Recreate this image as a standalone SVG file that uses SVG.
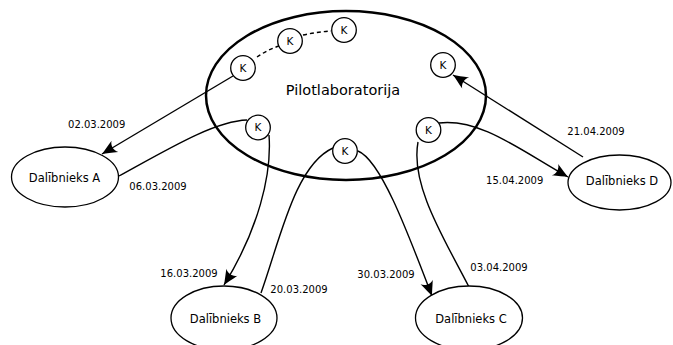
<svg xmlns="http://www.w3.org/2000/svg" width="673" height="345" viewBox="0 0 673 345">
<defs>
<style>
.conn{fill:none;stroke:#000;stroke-width:1.4}
.dash{fill:none;stroke:#000;stroke-width:1.4;stroke-dasharray:4,3}
.k{fill:#fff;stroke:#000;stroke-width:1.3}
.p{fill:#fff;stroke:#000;stroke-width:1.3}
.main{fill:#fff;stroke:#000;stroke-width:2.5}
text{font-family:"DejaVu Sans","Liberation Sans",sans-serif;fill:#000;text-anchor:middle}
.kt{font-size:10.5px}
.pt{font-size:11.5px}
.dt{font-size:10px}
.mt{font-size:14.5px}
</style>
<marker id="arr" markerUnits="userSpaceOnUse" markerWidth="20" markerHeight="16" viewBox="-16 -8 17 16" refX="0" refY="0" orient="auto">
<path d="M0,0 C-4,-1.5 -9,-4 -15,-6.5 C-11.5,-3 -11.5,3 -15,6.5 C-9,4 -4,1.5 0,0 Z" fill="#000"/>
</marker>
</defs>
<g id="pilotlaboratorija">
<ellipse class="main" cx="346" cy="95.5" rx="140" ry="84.5"/>
<text class="mt" x="343" y="95">Pilotlaboratorija</text>
</g>
<g id="connectors">
<path class="dash" d="M257,57 Q267,50 279,46"/>
<path class="dash" d="M303,35 Q317,32 331,31"/>
<path class="conn" d="M233,76 L102,154" marker-end="url(#arr)"/>
<path class="conn" d="M119,176 C170,148 215,121 247,120"/>
<path class="conn" d="M269,135 C272,175 258,230 224,285" marker-end="url(#arr)"/>
<path class="conn" d="M261,293 C280,240 295,165 333,148"/>
<path class="conn" d="M358,151 C380,160 405,225 432,296" marker-end="url(#arr)"/>
<path class="conn" d="M469,287 C445,240 410,185 418,142"/>
<path class="conn" d="M439,123 C480,118 520,150 568,177" marker-end="url(#arr)"/>
<path class="conn" d="M583,157 L453,75" marker-end="url(#arr)"/>
</g>
<g id="k1"><circle class="k" cx="243" cy="68" r="12.3"/><text class="kt" x="243" y="71.8">K</text></g>
<g id="k2"><circle class="k" cx="290" cy="41" r="12.3"/><text class="kt" x="290" y="44.8">K</text></g>
<g id="k3"><circle class="k" cx="344" cy="30" r="12.3"/><text class="kt" x="344" y="33.8">K</text></g>
<g id="k4"><circle class="k" cx="443" cy="65" r="12.3"/><text class="kt" x="443" y="68.8">K</text></g>
<g id="k5"><circle class="k" cx="258" cy="127.5" r="12.3"/><text class="kt" x="258" y="131.3">K</text></g>
<g id="k6"><circle class="k" cx="345" cy="151" r="12.3"/><text class="kt" x="345" y="154.8">K</text></g>
<g id="k7"><circle class="k" cx="428.5" cy="130" r="12.3"/><text class="kt" x="428.5" y="133.8">K</text></g>
<g id="dalibnieks-a"><ellipse class="p" cx="65" cy="177" rx="53.5" ry="30"/><text class="pt" x="64.5" y="181.5">Dalībnieks A</text></g>
<g id="dalibnieks-b"><ellipse class="p" cx="224" cy="318" rx="53" ry="32"/><text class="pt" x="225.5" y="323">Dalībnieks B</text></g>
<g id="dalibnieks-c"><ellipse class="p" cx="469" cy="318" rx="53.5" ry="32"/><text class="pt" x="471" y="323">Dalībnieks C</text></g>
<g id="dalibnieks-d"><ellipse class="p" cx="619.5" cy="182.5" rx="51.5" ry="27.5"/><text class="pt" x="622" y="184.5">Dalībnieks D</text></g>
<g id="labels">
<text class="dt" x="96.7" y="127.6">02.03.2009</text>
<text class="dt" x="158" y="190.3">06.03.2009</text>
<text class="dt" x="596" y="135.3">21.04.2009</text>
<text class="dt" x="514.7" y="183.6">15.04.2009</text>
<text class="dt" x="189" y="277">16.03.2009</text>
<text class="dt" x="299" y="292.6">20.03.2009</text>
<text class="dt" x="386" y="278">30.03.2009</text>
<text class="dt" x="499" y="271">03.04.2009</text>
</g>
</svg>
